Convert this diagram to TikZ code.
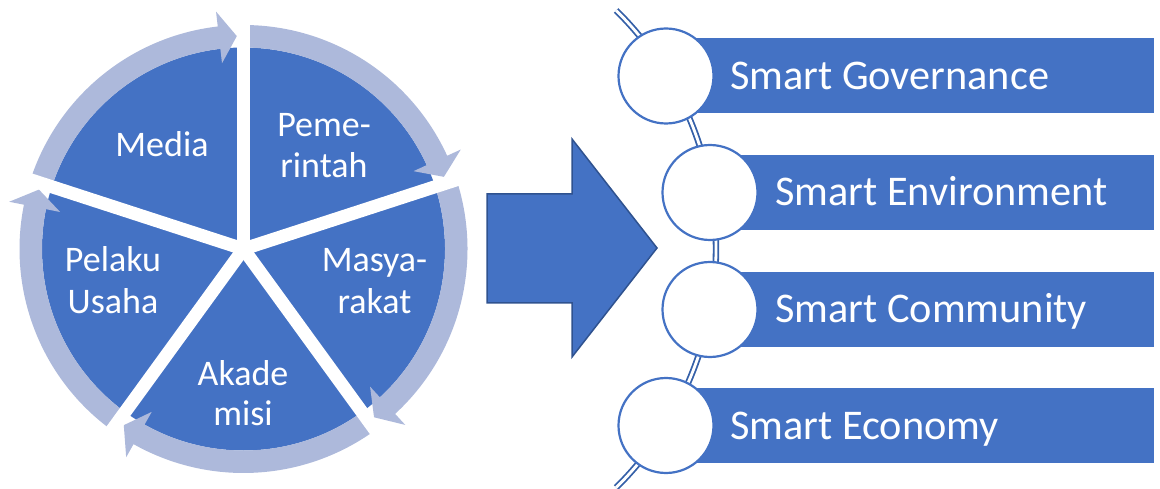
\documentclass[tikz,border=0pt]{standalone}
\usepackage{fontspec}
\setmainfont{Carlito}
\usetikzlibrary{calc}
\definecolor{pieblue}{HTML}{4472C4}
\definecolor{ringblue}{HTML}{ADB9DB}
\definecolor{darkblue}{HTML}{2F528F}
\definecolor{linkblue}{HTML}{3560A8}
\begin{document}
\begin{tikzpicture}[x=1pt,y=1pt,
  pietext/.style={text=white, font=\fontsize{36}{41}\selectfont, inner sep=0pt, anchor=base},
  bartext/.style={text=white, font=\fontsize{42.3}{48}\selectfont, inner sep=0pt, anchor=base west},
  circ/.style={circle, draw=pieblue, line width=2.2, fill=white, minimum size=95, inner sep=0pt},
  barbox/.style={fill=pieblue},
  gapline/.style={white, line width=13},
  bigarrow/.style={fill=pieblue, draw=darkblue, line width=1.5, line join=miter},
  link/.style={linkblue, line width=1.8, double=white, double distance=2.8}]
\useasboundingbox (0,0) rectangle (1160,-489);

% ---------- segmented cycle ----------
\begin{scope}[shift={(243.5,-249)}]
  \fill[pieblue] (0,0) circle[radius=201.5];
  \foreach \g in {162,90,18,-54,-126} {
    \pgfmathsetmacro\e{\g-72+6.6}
    \pgfmathsetmacro\t{\g-72+1.8}
    \fill[ringblue] (\g:224) arc[start angle=\g, end angle=\e, radius=224]
      -- (\e:239) -- (\t:213) -- (\e:187) -- (\e:201.5)
      arc[start angle=\e, end angle=\g, radius=201.5] -- cycle;
  }
  \foreach \g in {162,90,18,-54,-126}
    \draw[gapline] (0,0) -- (\g:245);
\end{scope}

\node[pietext] (media) at (162,-157) {Media};
\node[pietext] (peme1) at (324,-137) {Peme-};
\node[pietext] (peme2) at (324,-178) {rintah};
\node[pietext] (masy1) at (374.5,-272) {Masya-};
\node[pietext] (masy2) at (374.5,-313) {rakat};
\node[pietext] (akad1) at (243,-385) {Akade};
\node[pietext] (akad2) at (243,-425) {misi};
\node[pietext] (pel1) at (113,-272) {Pelaku};
\node[pietext] (pel2) at (113,-313) {Usaha};

% ---------- block arrow ----------
\draw[bigarrow] (487,-194) -- (572,-194) -- (572,-139) -- (657,-248)
  -- (572,-357) -- (572,-303) -- (487,-303) -- cycle;

% ---------- right list ----------
\draw[link] ($(381,-249)+(45.4:335)$) arc[start angle=45.4, end angle=-45.4, radius=335];

\fill[barbox] (666,-38.5) rectangle (1154,-113.5);
\fill[barbox] (710,-155) rectangle (1154,-230);
\fill[barbox] (710,-272) rectangle (1154,-347);
\fill[barbox] (666,-388) rectangle (1154,-463);

\node[circ] (c1) at (666,-76) {};
\node[circ] (c2) at (710,-192.5) {};
\node[circ] (c3) at (710,-309.5) {};
\node[circ] (c4) at (666,-425.5) {};

\node[bartext] (t1) at (730,-89.5) {Smart Governance};
\node[bartext] (t2) at (775,-206) {Smart Environment};
\node[bartext] (t3) at (775,-323) {Smart Community};
\node[bartext] (t4) at (730,-439) {Smart Economy};
\end{tikzpicture}
\end{document}
